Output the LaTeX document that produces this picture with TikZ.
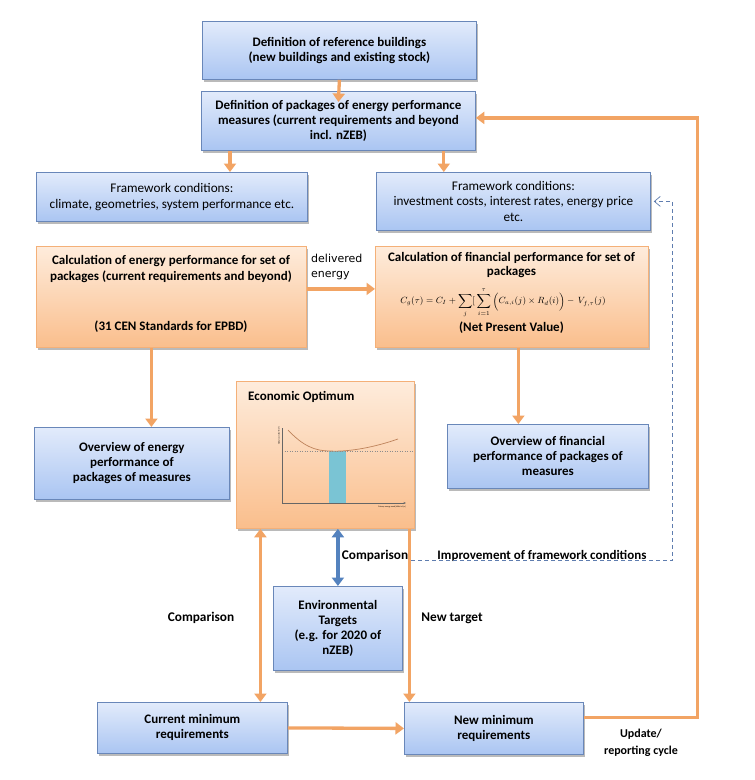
\documentclass[tikz,border=0pt]{standalone}
\usepackage{fontspec}
\setmainfont{Carlito}
\newfontfamily\djv{DejaVu Sans}
\usetikzlibrary{arrows.meta,shadows,calc}
\definecolor{ocol}{RGB}{242,164,100}
\definecolor{bcol}{RGB}{84,130,190}
\definecolor{bbord}{RGB}{105,135,185}
\definecolor{btop}{RGB}{226,235,251}
\definecolor{bbot}{RGB}{170,197,242}
\definecolor{obord}{RGB}{244,176,120}
\definecolor{otop}{RGB}{254,236,220}
\definecolor{obot}{RGB}{250,190,140}
\definecolor{dcol}{RGB}{95,125,175}
\definecolor{curvecol}{RGB}{190,130,90}
\definecolor{barcol}{RGB}{122,196,212}
\begin{document}
\begin{tikzpicture}[x=1pt,y=-1pt,
  box/.style={draw, line width=0.8pt, align=center, inner sep=2pt, anchor=north west,
    font=\fontsize{13}{15}\selectfont\bfseries,
    drop shadow={shadow xshift=1.5pt, shadow yshift=-3pt, fill=black!45, opacity=0.6}},
  bluebox/.style={box, draw=bbord, top color=btop, bottom color=bbot},
  orangebox/.style={box, draw=obord, top color=otop, bottom color=obot},
  thinfont/.style={font=\fontsize{13.2}{15.5}\selectfont},
  intext/.style={font=\fontsize{13}{15.5}\selectfont\bfseries, align=center, inner sep=0pt},
  lbl/.style={font=\fontsize{13.3}{16}\selectfont\bfseries, align=center, inner sep=1pt},
  oarrow/.style={draw=ocol, line width=3.3pt, -{Triangle[width=12pt,length=8.5pt]}},
  odarrow/.style={draw=ocol, line width=3.3pt, {Triangle[width=12pt,length=8.5pt]}-{Triangle[width=12pt,length=8.5pt]}},
  bdarrow/.style={draw=bcol, line width=3.3pt, {Triangle[width=12pt,length=8.5pt]}-{Triangle[width=12pt,length=8.5pt]}},
  dline/.style={draw=dcol, line width=0.7pt, dash pattern=on 4pt off 3pt},
]
\fill[white] (0,0) rectangle (755,780);
\useasboundingbox (0,0) rectangle (755,780);

% boxes
\node[bluebox, minimum width=274pt, minimum height=58pt] (ref) at (202,21)
  {Definition of reference buildings\\(new buildings and existing stock)};
\node[bluebox, minimum width=274pt, minimum height=59pt] (pack) at (201,91)
  {Definition of packages of energy performance\\measures (current requirements and beyond\\incl. nZEB)};
\node[bluebox, thinfont, minimum width=271pt, minimum height=49pt] (fwL) at (36,172)
  {Framework conditions:\\climate, geometries, system performance etc.};
\node[bluebox, thinfont, minimum width=274pt, minimum height=58pt] (fwR) at (376,172)
  {Framework conditions:\\investment costs, interest rates, energy price\\etc.};
\node[orangebox, minimum width=270pt, minimum height=101pt] (calcE) at (36,246) {};
\node[orangebox, minimum width=273pt, minimum height=101pt] (calcF) at (375,246) {};
\node[bluebox, minimum width=195pt, minimum height=72pt] (ovE) at (34,427)
  {Overview of energy\\performance of\\packages of measures};
\node[bluebox, minimum width=201pt, minimum height=64pt] (ovF) at (447,424)
  {Overview of financial\\performance of packages of\\measures};
\node[orangebox, minimum width=178pt, minimum height=147pt] (eco) at (236,381) {};
\node[bluebox, minimum width=129pt, minimum height=84pt] (env) at (273,586)
  {Environmental\\Targets\\(e.g. for 2020 of\\nZEB)};
\node[bluebox, minimum width=190pt, minimum height=51pt] (cur) at (97,702)
  {Current minimum\\requirements};
\node[bluebox, minimum width=179pt, minimum height=52pt] (new) at (404,702)
  {New minimum\\requirements};

% texts of the calculation boxes
\node[intext, font=\fontsize{13}{16}\selectfont\bfseries] (cET) at (171,269)
  {Calculation of energy performance for set of\\packages (current requirements and beyond)};
\node[intext] (cEB) at (171,327) {(31 CEN Standards for EPBD)};
\node[intext, font=\fontsize{13}{14.5}\selectfont\bfseries] (cFT) at (511.5,265)
  {Calculation of financial performance for set of\\packages};
\node[inner sep=0pt, font=\fontsize{8.6}{10}\selectfont] (cFM) at (503,303)
  {$\displaystyle C_g(\tau)=C_I+\sum_j[\,\sum_{i=1}^{\tau}\Big(C_{a,i}(j)\times R_d(i)\Big)-\,V_{f,\tau}(j)$};
\node[intext] (cFB) at (511.5,328) {(Net Present Value)};

% economic optimum content
\node[anchor=west, inner sep=0pt, font=\fontsize{13}{14}\selectfont\bfseries] (ecotitle) at (248,397) {Economic Optimum};
\fill[barcol] (329,451) rectangle (346,503);
\draw[black!45, line width=0.5pt, dotted] (282,451) -- (414,451);
\draw[curvecol, line width=0.7pt] (288,430) .. controls (303,446) and (315,451) .. (330,451)
  .. controls (350,452) and (375,447) .. (398,439);
\draw[black!60, line width=0.5pt, -{Stealth[length=2.5pt,width=2pt]}] (282,428) -- (282,503) -- (406,503);
\node[rotate=90, inner sep=0pt, font=\fontsize{2}{2}\selectfont] (ylab) at (279,436) {Global costs [EUR/m²]};
\node[inner sep=0pt, font=\fontsize{2}{2}\selectfont] (xlab) at (392,507) {Primary energy need [kWh/m²/yr]};

% labels
\node[anchor=north west, inner sep=0pt, align=left, font=\djv\fontsize{11}{15}\selectfont] (lblDE) at (311,254) {delivered\\energy};
\node[lbl] (cmpA) at (201,618) {Comparison};
\node[lbl] (cmpB) at (375,556) {Comparison};
\node[lbl, font=\fontsize{13}{16}\selectfont\bfseries] (impr) at (542,556) {Improvement of framework conditions};
\node[lbl] (newt) at (452,618) {New target};
\node[lbl, font=\fontsize{12}{17}\selectfont\bfseries] (upd) at (641,743) {Update/\\reporting cycle};

% connectors
\draw[oarrow] (ref.south) -- ([yshift=-11pt]pack.north);
\draw[oarrow] ([xshift=29pt]pack.south west) coordinate (a1) -- (a1 |- fwL.north);
\draw[oarrow] ([xshift=-32pt]pack.south east) coordinate (a2) -- (a2 |- fwR.north);
\draw[oarrow] ([yshift=8pt]calcE.east) -- ([yshift=8pt]calcF.west);
\draw[oarrow] ([xshift=-20pt]calcE.south) coordinate (a3) -- (a3 |- ovE.north);
\draw[oarrow] ([xshift=6.5pt]calcF.south) coordinate (a4) -- (a4 |- ovF.north);
\draw[odarrow] ([xshift=-65pt]eco.south) coordinate (a5) -- (a5 |- cur.north);
\draw[bdarrow] (env.north |- eco.south) -- (env.north);
\draw[oarrow] ([xshift=84pt]eco.south) coordinate (a6) -- (a6 |- new.north);
\draw[oarrow] (cur.east) -- (new.west);
\draw[oarrow] ([yshift=11pt]new.east) -- ++(114,0) |- ([yshift=3pt]pack.east);
\coordinate (dstart) at (411,560);
\draw[dline, -{Straight Barb[length=6pt,width=10pt]}] (dstart) -| ([xshift=22pt]fwR.east) -- ([xshift=3pt]fwR.east);
\end{tikzpicture}
\end{document}
